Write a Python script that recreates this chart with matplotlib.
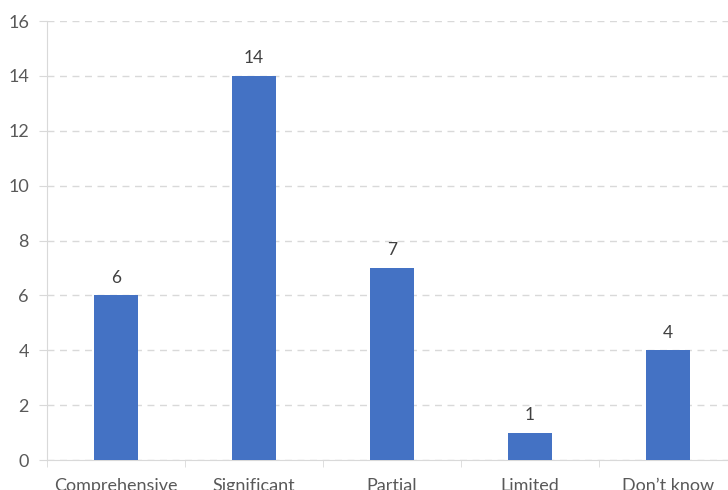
import matplotlib.pyplot as plt
import numpy as np

categories = ["Comprehensive", "Significant", "Partial", "Limited", "Don\u2019t know"]
values = [6, 14, 7, 1, 4]

plt.rcParams['font.family'] = ['Lato', 'DejaVu Sans']

fig = plt.figure(figsize=(7.28, 4.9), dpi=100)
ax = fig.add_axes([47/728, 30/490, 690/728, 439/490])

x = np.arange(len(categories))
bars = ax.bar(x, values, width=0.32, color='#4472C4', zorder=3)

for xi, v in zip(x, values):
    ax.annotate(str(v), (xi, v), xytext=(0, 7), textcoords='offset points',
                ha='center', va='bottom', fontsize=12.5, color='#404040')

ax.set_xlim(-0.5, len(categories) - 0.5)
ax.set_ylim(0, 16)
ax.set_yticks(range(0, 17, 2))
ax.tick_params(axis='y', colors='#D9D9D9', labelcolor='#595959', labelsize=13,
               length=6, pad=7)

ax.set_xticks(x)
ax.set_xticklabels(categories)
ax.set_xticks(np.arange(-0.5, len(categories), 1), minor=True)
ax.tick_params(axis='x', which='major', length=0, pad=13, labelsize=13,
               labelcolor='#595959')
ax.tick_params(axis='x', which='minor', length=5, color='#D9D9D9')

ax.grid(axis='y', linestyle=(0, (5, 4)), color='#D9D9D9', linewidth=1, zorder=0)
for s in ['top', 'right']:
    ax.spines[s].set_visible(False)
ax.spines['left'].set_color('#D9D9D9')
ax.spines['bottom'].set_color('#D9D9D9')

fig.savefig('out.png', dpi=100)
